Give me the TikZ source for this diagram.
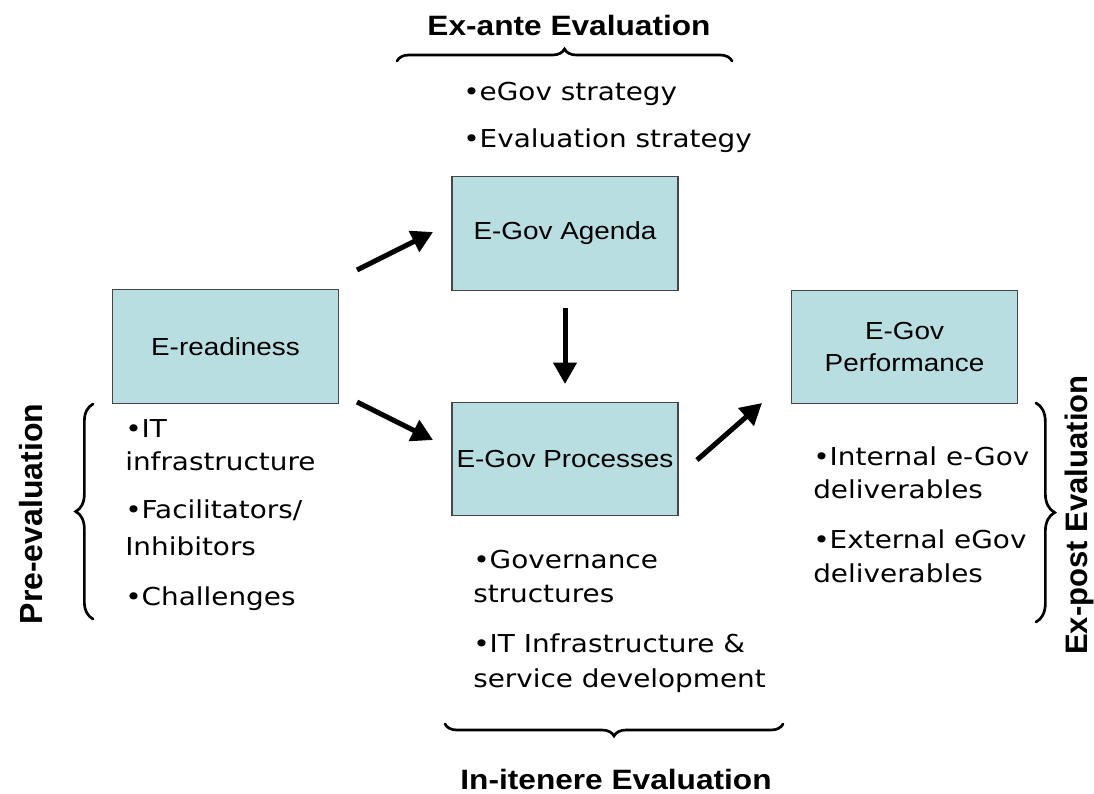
\documentclass[tikz,border=0pt]{standalone}
\usepackage{fontspec}
\setmainfont{Liberation Sans}
\newfontfamily\boxf[FakeStretch=1.13]{Liberation Sans}
\newfontfamily\bulf[FakeStretch=1.13]{DejaVu Sans}
\usetikzlibrary{arrows.meta,decorations.pathreplacing}
\definecolor{boxfill}{RGB}{185,222,226}
\definecolor{boxline}{RGB}{70,70,70}
\begin{document}
\begin{tikzpicture}[x=0.75pt,y=-0.75pt,
  stage/.style={draw=boxline,line width=0.9pt,fill=boxfill,minimum width=169.5pt,minimum height=85pt,inner sep=0pt,font=\boxf\fontsize{18.5}{24}\selectfont,align=center},
  flow/.style={line width=3.75pt,-{Triangle[length=16pt,width=17pt]}},
  bul/.style={anchor=base west,inner sep=0pt,font=\bulf\fontsize{18.5}{22}\selectfont},
  ttl/.style={anchor=base,inner sep=0pt,font=\boxf\bfseries\fontsize{21}{25}\selectfont},
  side/.style={rotate=90,inner sep=0pt,font=\bfseries\fontsize{#1}{28}\selectfont},
  brc/.style={decorate,line width=2pt,line cap=round,decoration={brace,amplitude=#1}},
]
\useasboundingbox (0,0) rectangle (1094,793);

% boxes
\node[stage] (er) at (225.5,346.5) {E-readiness};
\node[stage] (ag) at (565,233.5) {E-Gov Agenda};
\node[stage] (pr) at (565,459) {E-Gov Processes};
\node[stage] (pf) at (904.5,347) {E-Gov\\Performance};

% arrow end points
\coordinate (a1s) at (357,270); \coordinate (a1e) at (433,232);
\coordinate (a2s) at (357,402); \coordinate (a2e) at (433,440);
\coordinate (a3s) at (565,308); \coordinate (a3e) at (565,384);
\coordinate (a4s) at (697,460); \coordinate (a4e) at (762,403);
\draw[flow] (a1s) -- (a1e);
\draw[flow] (a2s) -- (a2e);
\draw[flow] (a3s) -- (a3e);
\draw[flow] (a4s) -- (a4e);

% titles
\node[ttl] (exante) at (569,35) {Ex-ante Evaluation};
\node[ttl] (initin) at (616,789) {In-itenere Evaluation};
\node[side=24] (pre) at (31,514) {Pre-evaluation};
\node[side=23.3] (post) at (1079,515) {Ex-post Evaluation};

% braces
\coordinate (b1a) at (397,61); \coordinate (b1b) at (732,61);
\coordinate (b2a) at (783,724); \coordinate (b2b) at (445,724);
\coordinate (b3a) at (93,619); \coordinate (b3b) at (93,404);
\coordinate (b4a) at (1036,403); \coordinate (b4b) at (1036,622);
\draw[brc=9pt] (b1a) -- (b1b);
\draw[brc=9pt] (b2a) -- (b2b);
\draw[brc=13pt] (b3a) -- (b3b);
\draw[brc=14pt] (b4a) -- (b4b);

% bullet texts
\node[bul] (t1) at (463,100) {•eGov strategy};
\node[bul] (t2) at (463,147) {•Evaluation strategy};

\node[bul] (l1) at (125,437) {•IT};
\node[bul] (l2) at (125,470) {infrastructure};
\node[bul] (l3) at (125,518) {•Facilitators/};
\node[bul] (l4) at (125,555) {Inhibitors};
\node[bul] (l5) at (125,605) {•Challenges};

\node[bul] (m1) at (473,568) {•Governance};
\node[bul] (m2) at (473,602) {structures};
\node[bul] (m3) at (473,652) {•IT Infrastructure \&};
\node[bul] (m4) at (473,687) {service development};

\node[bul] (r1) at (813,465) {•Internal e-Gov};
\node[bul] (r2) at (813,498) {deliverables};
\node[bul] (r3) at (813,548) {•External eGov};
\node[bul] (r4) at (813,582) {deliverables};
\end{tikzpicture}
\end{document}
